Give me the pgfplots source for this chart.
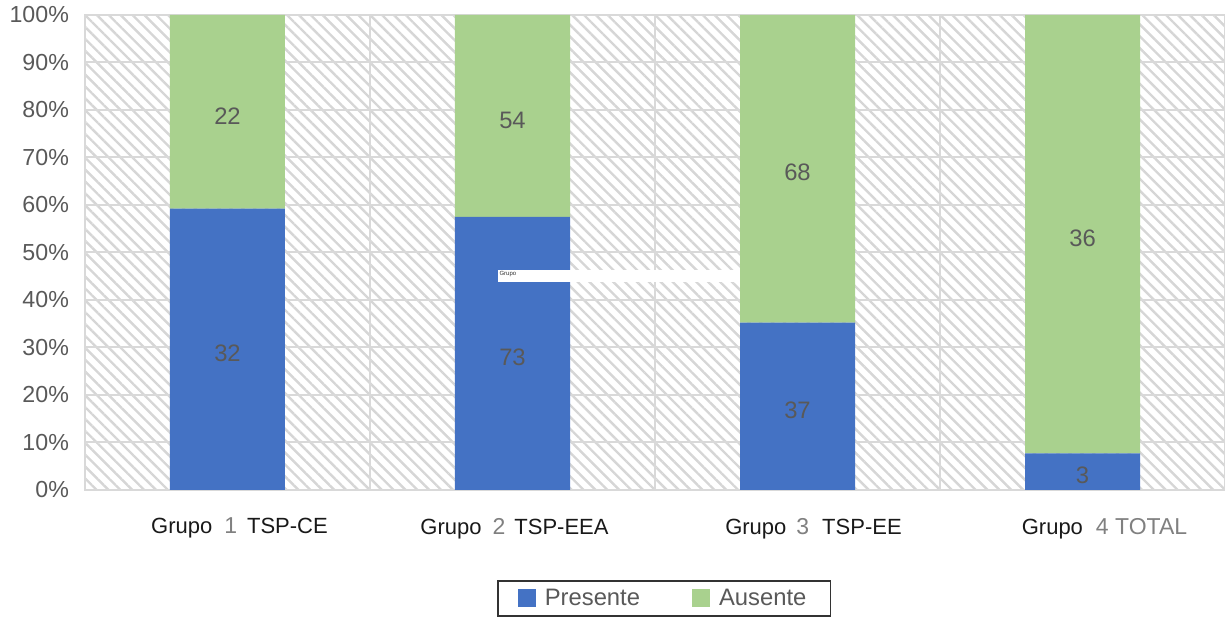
\documentclass[border=0pt]{standalone}
\usepackage{pgfplots}
\pgfplotsset{compat=1.18}
\usepackage{pgfplotstable}
\usepackage{fontspec}
\setmainfont{Liberation Sans}
\usetikzlibrary{patterns.meta}
\definecolor{pblue}{HTML}{4472C4}
\definecolor{pgreen}{HTML}{A9D18E}
\definecolor{lgray}{HTML}{595959}
\definecolor{dgray}{HTML}{808080}
\definecolor{gridc}{HTML}{D9D9D9}
\definecolor{hatchc}{HTML}{D6D6D6}
\newcommand{\gd}[1]{{\fontsize{11.5}{13}\selectfont\textcolor{dgray}{#1}}}

\pgfplotstableread{
x p n
0 59.26 32
1 57.48 73
2 35.24 37
3 7.69 3
}\presente
\pgfplotstableread{
x p n
0 40.74 22
1 42.52 54
2 64.76 68
3 92.31 36
}\ausente

\begin{document}
\begin{tikzpicture}
\begin{axis}[name=ax, scale only axis, width=570pt, height=237.5pt,
 ybar stacked, bar width=57.5pt,
 xmin=-0.5, xmax=3.5, ymin=0, ymax=100, enlargelimits=false,
 xtick={0,1,2,3},
 xticklabels={{\hspace*{12pt}Grupo\hspace{6pt}\gd{1}\hspace{5pt}TSP-CE},
              {\hspace*{2pt}Grupo\hspace{5.5pt}\gd{2}\hspace{4.5pt}TSP-EEA},
              {\hspace*{16pt}Grupo\hspace{5pt}\gd{3}\hspace{6.5pt}TSP-EE},
              {\hspace*{22pt}Grupo\hspace{6.5pt}\gd{4 TOTAL}}},
 minor xtick={0.5,1.5,2.5}, xminorgrids=true, ymajorgrids=true,
 ytick={0,10,...,100},
 yticklabels={0\%,10\%,20\%,30\%,40\%,50\%,60\%,70\%,80\%,90\%,100\%},
 major tick length=0pt, minor tick length=0pt,
 grid style={gridc, line width=1pt}, minor grid style={gridc, line width=1pt},
 axis line style={gridc, line width=1pt},
 axis background/.style={pattern={Lines[angle=-45,distance=4.2pt,line width=1.2pt]}, pattern color=hatchc},
 yticklabel style={font=\fontsize{11.6}{13}\selectfont, text=lgray, xshift=-4.5pt},
 xticklabel style={font=\fontsize{11}{13}\selectfont, text=black!90, yshift=-10.5pt},
 legend columns=2,
 legend style={at={(0.508,-0.1895)}, anchor=north, draw=black!80, line width=0.8pt,
   font=\fontsize{11.9}{14}\selectfont, text=lgray, inner xsep=10pt, inner ysep=2pt,
   /tikz/every odd column/.append style={column sep=2.5pt},
   /tikz/every even column/.append style={column sep=24pt}},
 legend image code/.code={\fill[#1,draw=none] (0pt,-4.5pt) rectangle (9pt,4.5pt);},
 nodes near coords, point meta=explicit symbolic,
 every node near coord/.style={anchor=center, yshift=-2pt, font=\fontsize{11.9}{14}\selectfont, text=lgray},
]
\addplot[fill=pblue, draw=none] table[x=x, y=p, meta=n] {\presente};
\addlegendentry{Presente}
\addplot[fill=pgreen, draw=none] table[x=x, y=p, meta=n] {\ausente};
\addlegendentry{Ausente}
\coordinate (b1) at (axis cs:0.949,43.8);
\coordinate (b2) at (axis cs:1.798,46.3);
\end{axis}
\fill[white] (b1) rectangle (b2);
\node[anchor=north west, inner sep=0.6pt, font=\fontsize{3}{3.5}\selectfont, text=black!80]
  at (b1 |- b2) {Grupo};
\pgfresetboundingbox
\path ([shift={(-42.5pt,-64.5pt)}]ax.south west) rectangle ([shift={(0pt,7.5pt)}]ax.north east);
\end{tikzpicture}
\end{document}
